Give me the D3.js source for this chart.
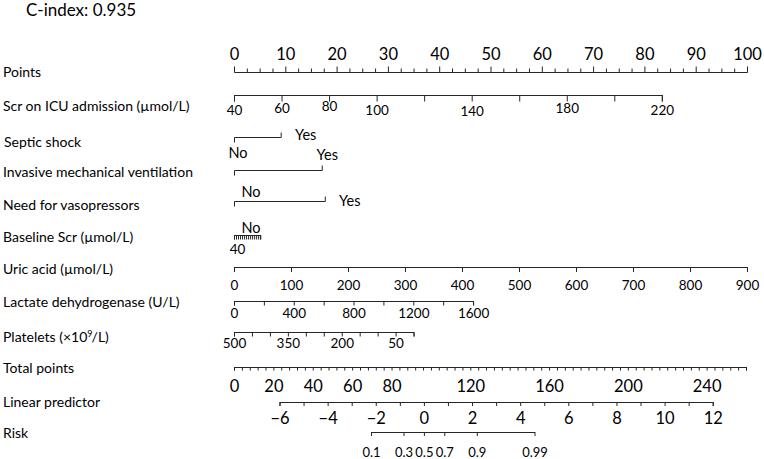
<!DOCTYPE html>
<html>
<head>
<meta charset="utf-8">
<script src="https://cdn.jsdelivr.net/npm/d3@7"></script>
<style>
  body { margin: 0; background: #fff; }
  svg { font-family: Lato, "Open Sans", sans-serif; }
  .domain, .tick line, .bin { stroke: #262626; fill: none; }
</style>
</head>
<body>
<svg width="764" height="459"></svg>
<script>
// values
const cIndex = "0.935";

const rowNames = ["Points", "Scr on ICU admission (µmol/L)", "Septic shock",
  "Invasive mechanical ventilation", "Need for vasopressors", "Baseline Scr (µmol/L)",
  "Uric acid (µmol/L)", "Lactate dehydrogenase (U/L)", "Platelets", "Total points",
  "Linear predictor", "Risk"];

const scrRange = [40, 220], scrPts = [0, 83.4];
const scrTicks = [40, 60, 80, 100, 120, 140, 160, 180, 200, 220];
const scrLabels = [40, 60, 80, 100, 140, 180, 220];

const septicLevels = ["No", "Yes"], septicPts = [0, 9.1];
const imvLevels = ["No", "Yes"], imvPts = [0, 17.1];
const vasoLevels = ["No", "Yes"], vasoPts = [0, 17.7];

const baseScrRange = [40, 170], baseScrPts = [0, 5.1];
const baseScrLabels = [40];

const uricRange = [0, 900], uricPts = [0, 100];
const uricTicks = [0, 100, 200, 300, 400, 500, 600, 700, 800, 900];

const ldhRange = [0, 1600], ldhPts = [0, 46.6];
const ldhTicks = [0, 200, 400, 600, 800, 1000, 1200, 1400, 1600];
const ldhLabels = [0, 400, 800, 1200, 1600];

const pltRange = [500, 0], pltPts = [0, 35];
const pltTicks = [500, 450, 400, 350, 300, 250, 200, 150, 100, 50, 0];
const pltLabels = [500, 350, 200, 50];

const totalRange = [0, 260];
const totalLabels = [0, 20, 40, 60, 80, 120, 160, 200, 240];

const lpRange = [-6, 12], lpTotal = [23.1, 243.1];
const lpLabels = [-6, -4, -2, 0, 2, 4, 6, 8, 10, 12];

const riskValues = [0.1, 0.3, 0.5, 0.7, 0.9, 0.99];

// layout
const rowY = [72, 95, 137, 170, 201, 235, 267, 301, 332, 367, 402, 432];
const labelY = [72, 106, 142, 172, 205, 237, 269, 302, 337, 368, 402, 433];

const svg = d3.select("svg");

const x = d3.scaleLinear().domain([0, 100]).range([234, 747]);
const xTotal = d3.scaleLinear().domain(totalRange).range([234, 746]);

svg.append("text")
  .attr("x", 26).attr("y", 16)
  .style("font-size", "17px")
  .text("C-index: " + cIndex);

// row names
svg.selectAll(".rowname")
  .data(rowNames)
  .enter().append("text")
  .attr("class", "rowname")
  .attr("x", (d, i) => i === 2 ? 4 : 3)
  .attr("y", (d, i) => labelY[i])
  .attr("dy", "0.35em")
  .style("font-size", "14px")
  .text(d => d);

// superscript for the platelet unit
const plt = svg.selectAll(".rowname").filter((d, i) => i === 8);
plt.append("tspan").text(" (×10");
plt.append("tspan").attr("dy", -5).style("font-size", "9px").text("9");
plt.append("tspan").attr("dy", 5).attr("dx", -1).text("/L)");

function cleanAxis(g, off, size, dys) {
  g.attr("font-family", null).attr("font-size", null);
  g.selectAll("text")
    .attr("y", (d, i) => off + (dys ? dys[i] || 0 : 0))
    .attr("dy", null)
    .style("font-size", size + "px");
}

function contRow(row, domain, pts, ticks, labels, opt) {
  const s = d3.scaleLinear().domain(domain).range([x(pts[0]), x(pts[1])]);
  const fmt = opt.fmt || (d => d);
  const g = svg.append("g")
    .attr("transform", `translate(0,${rowY[row]})`)
    .call(d3.axisBottom(s).tickValues(ticks).tickSizeOuter(0).tickSize(opt.tick)
      .tickFormat(d => labels.includes(d) ? fmt(d) : ""));
  cleanAxis(g, opt.off, opt.font || 13.5, opt.dys);
  return g;
}

// Points axis
const gp = svg.append("g")
  .attr("transform", `translate(0,${rowY[0]})`)
  .call(d3.axisTop(x).tickValues(d3.range(0, 100.1, 2.5)).tickSizeOuter(0).tickSize(3.5)
    .tickFormat(d => d % 10 === 0 ? d : ""));
cleanAxis(gp, -12, 16.5);
gp.selectAll(".tick line").filter(d => d % 10 === 0).attr("y2", -5.5);

contRow(1, scrRange, scrPts, scrTicks, scrLabels,
  { tick: 6.5, off: 19.5, dys: [0, -1.5, -3.3, 0, 0, 1.7, 0, -1.5, 0, 0] });

// binary rows
function binRow(row, pts, labels) {
  const y = rowY[row] + 0.5;
  const x0 = x(pts[0]) + 0.5, x1 = x(pts[1]) + 0.5;
  svg.append("path").attr("class", "bin")
    .attr("d", `M${x0},${y + 5}V${y}H${x1}V${y - 5}`);
  labels.forEach(l => {
    svg.append("text")
      .attr("x", x(pts[l.level]) + l.dx)
      .attr("y", y + l.dy)
      .attr("dy", "0.35em")
      .attr("text-anchor", "middle")
      .style("font-size", "14.5px")
      .text(l.text);
  });
}

binRow(2, septicPts, [
  { level: 1, text: septicLevels[1], dx: 25, dy: -2.5 },
  { level: 0, text: septicLevels[0], dx: 4, dy: 15 }]);
binRow(3, imvPts, [
  { level: 1, text: imvLevels[1], dx: 5.5, dy: -15.5 }]);
binRow(4, vasoPts, [
  { level: 0, text: vasoLevels[0], dx: 17, dy: -10 },
  { level: 1, text: vasoLevels[1], dx: 25, dy: -0.5 }]);

// baseline Scr: dense ticks, odd "No" label sits above
const gb = contRow(5, baseScrRange, baseScrPts, d3.range(40, 171, 10), baseScrLabels,
  { tick: 4.5, off: 19, font: 13.5 });
gb.selectAll("text").attr("dx", 3);
svg.append("text")
  .attr("x", x(0) + 17).attr("y", rowY[5] - 7)
  .attr("dy", "0.35em").attr("text-anchor", "middle")
  .style("font-size", "14.5px").text("No");

contRow(6, uricRange, uricPts, uricTicks, uricTicks, { tick: 5, off: 22.5 });
contRow(7, ldhRange, ldhPts, ldhTicks, ldhLabels, { tick: 4.5, off: 17 });
contRow(8, pltRange, pltPts, pltTicks, pltLabels, { tick: 4.5, off: 16 });

// Total points
const gt = svg.append("g")
  .attr("transform", `translate(0,${rowY[9]})`)
  .call(d3.axisBottom(xTotal).tickValues(d3.range(0, 260.1, 4)).tickSizeOuter(0).tickSize(3.5)
    .tickFormat(d => totalLabels.includes(d) ? d : ""));
cleanAxis(gt, 25, 16.5);

// Linear predictor, placed on the total points scale
const xLp = d3.scaleLinear().domain(lpRange).range(lpTotal.map(xTotal));
const gl = svg.append("g")
  .attr("transform", `translate(0,${rowY[10]})`)
  .call(d3.axisBottom(xLp).tickValues(d3.range(-6, 12.1, 1)).tickSizeOuter(0).tickSize(4)
    .tickFormat(d => lpLabels.includes(d) ? d3.format("d")(d) : ""));
cleanAxis(gl, 22, 16.5);

// Risk on the logit of the linear predictor
const logit = p => Math.log(p / (1 - p));
const gr = svg.append("g")
  .attr("transform", `translate(0,${rowY[11]})`)
  .call(d3.axisBottom(xLp).tickValues(riskValues.map(logit)).tickSizeOuter(0).tickSize(4)
    .tickFormat((d, i) => String(riskValues[i])));
gr.select(".domain").attr("d", `M${xLp(logit(0.1))},0.5H${xLp(logit(0.99)) + 0.5}`);
cleanAxis(gr, 24.5, 13);
</script>
</body>
</html>
